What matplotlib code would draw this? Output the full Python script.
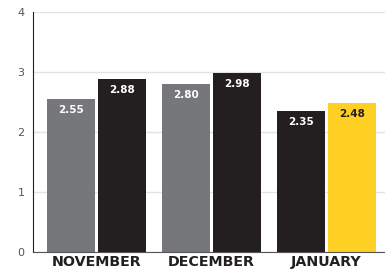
import matplotlib
matplotlib.use('Agg')
import matplotlib.pyplot as plt
import numpy as np

# data
months = ['NOVEMBER', 'DECEMBER', 'JANUARY']
left_vals = [2.55, 2.80, 2.35]
right_vals = [2.88, 2.98, 2.48]
left_colors = ['#76777a', '#76777a', '#231f20']
right_colors = ['#231f20', '#231f20', '#fdd023']
right_text = ['white', 'white', '#231f20']
yticks = [0, 1, 2, 3, 4]

fig = plt.figure(figsize=(3.85, 2.69), dpi=100)
ax = fig.add_axes([0.0857, 0.0632, 0.914, 0.892])

x = np.arange(len(months))
w = 0.417
off = 0.222

ax.bar(x - off, left_vals, width=w, color=left_colors, zorder=2)
ax.bar(x + off, right_vals, width=w, color=right_colors, zorder=2)

for i in range(len(months)):
    ax.text(x[i] - off, left_vals[i] - 0.18, f'{left_vals[i]:.2f}', ha='center', va='center',
            color='white', fontsize=7.5, fontweight='bold', zorder=3)
    ax.text(x[i] + off, right_vals[i] - 0.18, f'{right_vals[i]:.2f}', ha='center', va='center',
            color=right_text[i], fontsize=7.5, fontweight='bold', zorder=3)

ax.set_xlim(-0.552, 2.509)
ax.set_ylim(0, 4)
ax.set_yticks(yticks)
ax.set_yticklabels([str(t) for t in yticks], color='#555555', fontsize=8)
ax.yaxis.grid(True, color='#e3e3e3', linewidth=1, zorder=0)
ax.tick_params(axis='y', length=0, pad=6)
ax.set_xticks(x)
ax.set_xticklabels(months, fontsize=10.3, fontweight='bold', color='#231f20')
ax.tick_params(axis='x', length=0, pad=2)

for s in ['top', 'right']:
    ax.spines[s].set_visible(False)
ax.spines['left'].set_color('#231f20')
ax.spines['bottom'].set_color('#555555')

fig.savefig('out.png', dpi=100)
